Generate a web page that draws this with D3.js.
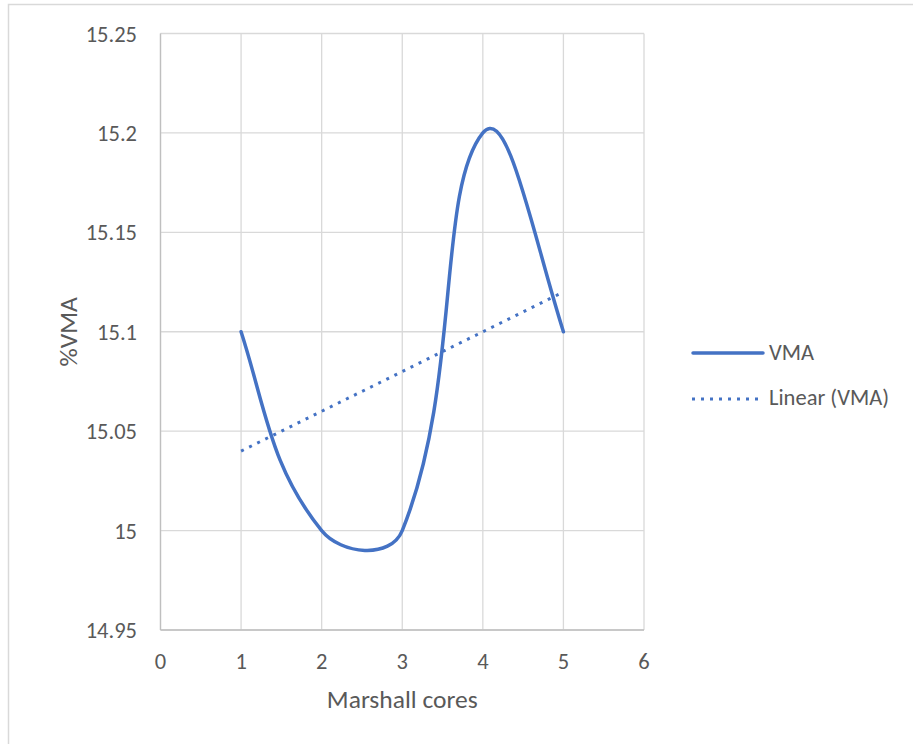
<!DOCTYPE html>
<html>
<head>
<meta charset="utf-8">
<script src="https://cdn.jsdelivr.net/npm/d3@7"></script>
<style>
  html, body { margin: 0; padding: 0; background: #fff; }
  svg { display: block; font-family: Calibri, Carlito, Lato, "Open Sans", sans-serif; }
</style>
</head>
<body>
<svg id="chart" width="913" height="744"></svg>
<script>
// Marshall core VMA readings
const cores = [1, 2, 3, 4, 5];
const vma = [15.1, 15.0, 15.0, 15.2, 15.1];
const xTicks = [0, 1, 2, 3, 4, 5, 6];
const yTicks = [14.95, 15, 15.05, 15.1, 15.15, 15.2, 15.25];
const legendLabels = ["VMA", "Linear (VMA)"];

const svg = d3.select("#chart");
const blue = "#4472C4";
const grid = "#d9d9d9";
const textCol = "#595959";

// Spreadsheet-style smoothing: cubic Bezier segments whose handles follow the
// neighbouring chord, weighted by the relative lengths of adjacent segments.
// End segments aim their free handle between the chord and the inner handle.
function curveSmoothChart(context) {
  const k = 0.44;
  let pts = [];
  return {
    lineStart() { pts = []; },
    point(x, y) { pts.push([+x, +y]); },
    lineEnd() {
      const n = pts.length;
      if (!n) return;
      context.moveTo(pts[0][0], pts[0][1]);
      const dist = (a, b) => Math.hypot(b[0] - a[0], b[1] - a[1]);
      const endHandle = (p, q, c) => [
        p[0] + 0.5 * ((c[0] - p[0]) * 0.5 + (q[0] - p[0]) * k),
        p[1] + 0.5 * ((c[1] - p[1]) * 0.5 + (q[1] - p[1]) * k)
      ];
      for (let i = 0; i < n - 1; i++) {
        const p1 = pts[i], p2 = pts[i + 1];
        let c1 = null, c2 = null;
        if (i > 0) {
          const p0 = pts[i - 1];
          const f1 = k * dist(p1, p2) / (dist(p0, p1) + dist(p1, p2));
          c1 = [p1[0] + (p2[0] - p0[0]) * f1, p1[1] + (p2[1] - p0[1]) * f1];
        }
        if (i < n - 2) {
          const p3 = pts[i + 2];
          const f2 = k * dist(p1, p2) / (dist(p1, p2) + dist(p2, p3));
          c2 = [p2[0] - (p3[0] - p1[0]) * f2, p2[1] - (p3[1] - p1[1]) * f2];
        }
        if (!c1 && !c2) { c1 = p1; c2 = p2; }
        if (!c1) c1 = endHandle(p1, p2, c2);
        if (!c2) c2 = endHandle(p2, p1, c1);
        context.bezierCurveTo(c1[0], c1[1], c2[0], c2[1], p2[0], p2[1]);
      }
    },
    areaStart() {}, areaEnd() {}
  };
}

// outer chart frame
svg.append("path")
  .attr("d", "M8.5,744 V4.5 H913")
  .attr("fill", "none").attr("stroke", grid).attr("stroke-width", 1.5);

const x = d3.scaleLinear().domain([0, 6]).range([160.5, 644]);
const y = d3.scaleLinear().domain([14.95, 15.25]).range([630, 33.5]);

// gridlines
svg.append("g").selectAll("line").data(yTicks).join("line")
  .attr("x1", x(0)).attr("x2", x(6))
  .attr("y1", d => y(d)).attr("y2", d => y(d))
  .attr("stroke", grid).attr("stroke-width", 1.3);
svg.append("g").selectAll("line").data(xTicks).join("line")
  .attr("y1", y(14.95)).attr("y2", y(15.25))
  .attr("x1", d => x(d)).attr("x2", d => x(d))
  .attr("stroke", grid).attr("stroke-width", 1.3);
// axis lines
svg.append("line").attr("x1", x(0)).attr("x2", x(6)).attr("y1", y(14.95)).attr("y2", y(14.95))
  .attr("stroke", "#bfbfbf").attr("stroke-width", 1.3);
svg.append("line").attr("x1", x(0)).attr("x2", x(0)).attr("y1", y(14.95)).attr("y2", y(15.25))
  .attr("stroke", "#bfbfbf").attr("stroke-width", 1.3);

// tick labels
svg.append("g").selectAll("text").data(yTicks).join("text")
  .attr("x", 137).attr("y", d => y(d) + 8)
  .attr("text-anchor", "end").attr("font-size", 22.5).attr("fill", textCol)
  .text(d => String(d));
svg.append("g").selectAll("text").data(xTicks).join("text")
  .attr("x", d => x(d)).attr("y", 668.5)
  .attr("text-anchor", "middle").attr("font-size", 22.5).attr("fill", textCol)
  .text(d => String(d));

// axis titles
svg.append("text").attr("x", x(3)).attr("y", 708)
  .attr("text-anchor", "middle").attr("font-size", 25.5).attr("fill", textCol)
  .text("Marshall cores");
svg.append("text").attr("transform", `translate(77,${(y(14.95) + y(15.25)) / 2}) rotate(-90)`)
  .attr("text-anchor", "middle").attr("font-size", 25.5).attr("fill", textCol)
  .text("%VMA");

// least-squares trendline
const n = cores.length;
const mx = d3.mean(cores), my = d3.mean(vma);
const slope = d3.sum(cores, (c, i) => (c - mx) * (vma[i] - my)) / d3.sum(cores, c => (c - mx) ** 2);
const icpt = my - slope * mx;
const trend = [cores[0], cores[n - 1]].map(c => [c, icpt + slope * c]);

svg.append("path")
  .attr("d", d3.line().x(d => x(d[0])).y(d => y(d[1]))(trend))
  .attr("fill", "none").attr("stroke", blue).attr("stroke-width", 3)
  .attr("stroke-dasharray", "3 6");

// smoothed series line
const pts = cores.map((c, i) => [c, vma[i]]);
svg.append("path")
  .attr("d", d3.line().x(d => x(d[0])).y(d => y(d[1])).curve(curveSmoothChart)(pts))
  .attr("fill", "none").attr("stroke", blue).attr("stroke-width", 3.5)
  .attr("stroke-linecap", "round").attr("stroke-linejoin", "round");

// legend
const lg = svg.append("g");
lg.append("line").attr("x1", 693).attr("x2", 763).attr("y1", 353).attr("y2", 353)
  .attr("stroke", blue).attr("stroke-width", 3.5).attr("stroke-linecap", "round");
lg.append("line").attr("x1", 692).attr("x2", 760).attr("y1", 399).attr("y2", 399)
  .attr("stroke", blue).attr("stroke-width", 3).attr("stroke-dasharray", "3 6");
lg.selectAll("text").data(legendLabels).join("text")
  .attr("x", 769).attr("y", (d, i) => 360 + i * 45)
  .attr("font-size", 22.5).attr("fill", textCol)
  .text(d => d);
</script>
</body>
</html>
